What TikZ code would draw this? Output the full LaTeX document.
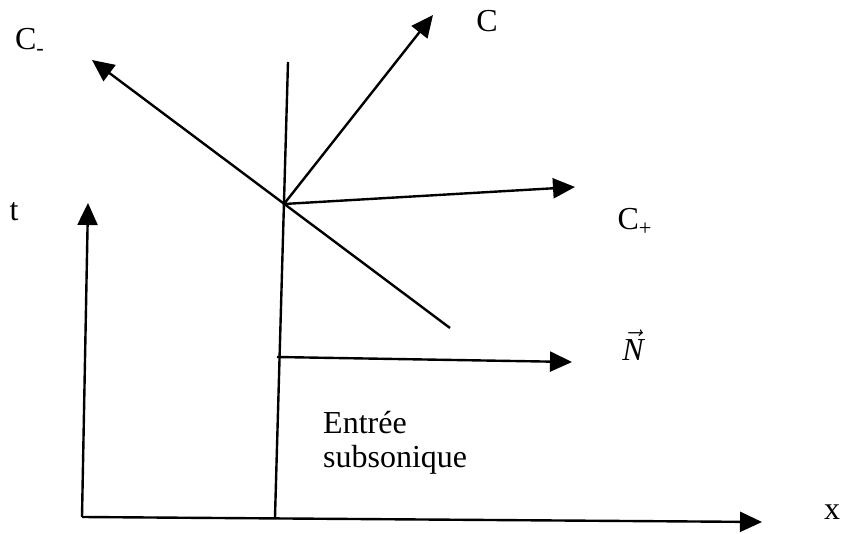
\documentclass[tikz,border=0pt]{standalone}
\usepackage{fontspec}
\setmainfont{Liberation Serif}
\usetikzlibrary{arrows.meta}
\begin{document}
\begin{tikzpicture}[x=0.5pt,y=-0.5pt,line width=1.2pt,
  arr/.style={-{Triangle[length=11pt,width=10pt]}},
  lbl/.style={font=\fontsize{16}{17}\selectfont,inner sep=0pt}]
\useasboundingbox (0,0) rectangle (842,534);
% axes
\coordinate (orig) at (82,517);
\coordinate (ttip) at (88,203);
\coordinate (xtip) at (762,522);
\draw[arr] (orig) -- (ttip);
\draw[arr] (orig) -- (xtip);
\node[lbl] (t) at (14,212) {t};
\node[lbl] (x) at (832,512) {x};
% wall and characteristics
\coordinate (wbot) at (275,517);
\coordinate (wtop) at (288,62);
\coordinate (P) at (284,204);
\draw (wbot) -- (wtop);
\coordinate (cmtip) at (92,60);
\coordinate (cmend) at (450,328);
\draw[arr] (cmend) -- (cmtip);
\draw[arr] (P) -- (433,15) coordinate (ctip);
\draw[arr] (P) -- (575,187) coordinate (cptip);
\node[lbl] (cm) at (30,42) {C\textsubscript{-}};
\node[lbl] (c) at (487,21) {C};
\node[lbl] (cp) at (635,222) {C\textsubscript{+}};
% normal
\coordinate (nbase) at (277,357);
\draw[arr] (nbase) -- (572,362) coordinate (ntip);
\node[lbl] (n) at (633,345) {$\vec{\mathit{N}}$};
\node[lbl,anchor=north west,align=left] (entree) at (322,410) {Entrée\\subsonique};
\end{tikzpicture}
\end{document}
